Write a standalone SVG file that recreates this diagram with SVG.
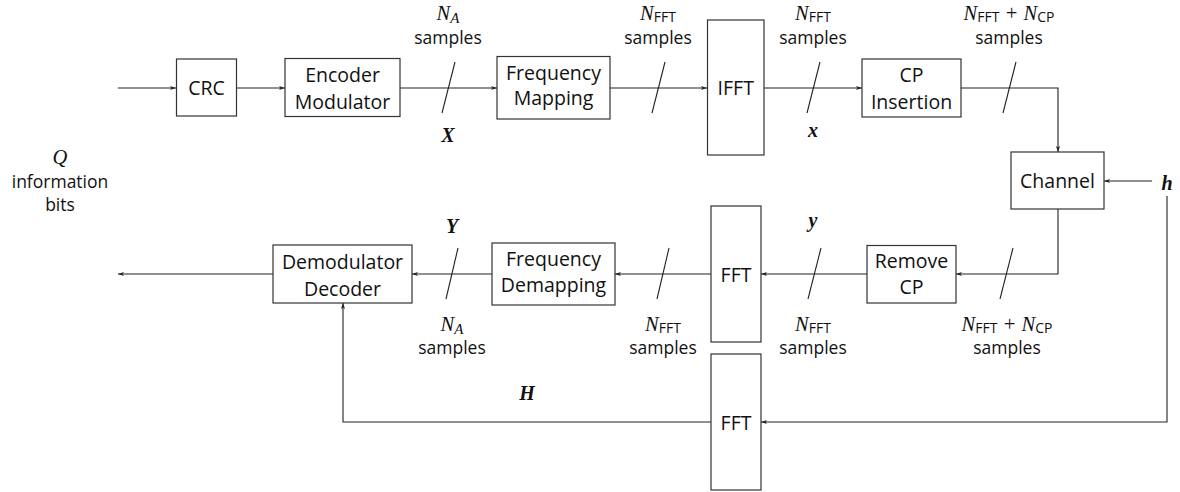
<svg xmlns="http://www.w3.org/2000/svg" width="1180" height="492" viewBox="0 0 1180 492">
<style>
.box{fill:#fff;stroke:#333;stroke-width:1.2}
.t{font-family:"Open Sans","Noto Sans",sans-serif;font-size:19.5px;fill:#111;text-anchor:middle}
.s{font-family:"Open Sans","Noto Sans",sans-serif;font-size:17.5px;fill:#111;text-anchor:middle}
.m{font-family:"Liberation Serif",serif;font-style:italic;font-size:20.5px;fill:#111;text-anchor:middle}
.b{font-family:"Liberation Serif",serif;font-style:italic;font-weight:bold;font-size:20px;fill:#111;text-anchor:middle}
.sub{font-family:"Open Sans","Noto Sans",sans-serif;font-style:normal;font-weight:normal;font-size:14px}
.subi{font-family:"Liberation Serif",serif;font-style:italic;font-size:15px}
.ln{fill:none;stroke:#222;stroke-width:1.1}
.sl{fill:none;stroke:#222;stroke-width:1.1}
</style>
<defs>
<marker id="ah" viewBox="0 0 10 10" refX="10" refY="5" markerWidth="8" markerHeight="6" markerUnits="userSpaceOnUse" orient="auto">
<path d="M0,1.5 L10,5 L0,8.5 L2.5,5 Z" fill="#222"/>
</marker>
</defs>
<g id="connectors">
<path class="ln" d="M118,88 H176" marker-end="url(#ah)"/>
<path class="ln" d="M236.5,88 H285" marker-end="url(#ah)"/>
<path class="ln" d="M400,88 H497" marker-end="url(#ah)"/>
<path class="ln" d="M610,88 H707" marker-end="url(#ah)"/>
<path class="ln" d="M764,88 H862" marker-end="url(#ah)"/>
<path class="ln" d="M961,88 H1058 V152" marker-end="url(#ah)"/>
<path class="ln" d="M1152,181 H1104" marker-end="url(#ah)"/>
<path class="ln" d="M1058,209 V274 H956" marker-end="url(#ah)"/>
<path class="ln" d="M867,274 H761" marker-end="url(#ah)"/>
<path class="ln" d="M711,274 H615" marker-end="url(#ah)"/>
<path class="ln" d="M492,274 H412" marker-end="url(#ah)"/>
<path class="ln" d="M273,274 H118" marker-end="url(#ah)"/>
<path class="ln" d="M1167,196 V422 H761" marker-end="url(#ah)"/>
<path class="ln" d="M711,422 H343 V303" marker-end="url(#ah)"/>
<path class="sl" d="M442,113 L455,62"/>
<path class="sl" d="M652,113 L665,62"/>
<path class="sl" d="M807,113 L820,62"/>
<path class="sl" d="M1003,113 L1016,62"/>
<path class="sl" d="M1000,299 L1013,248"/>
<path class="sl" d="M808,299 L821,248"/>
<path class="sl" d="M657,299 L669,248"/>
<path class="sl" d="M446,299 L458,248"/>
</g>
<g id="crc"><rect class="box" x="176.5" y="59" width="60" height="57"/><text class="t" x="206.5" y="95">CRC</text></g>
<g id="encoder"><rect class="box" x="285" y="58.5" width="115" height="58"/><text class="t" x="342.5" y="82">Encoder</text><text class="t" x="342.5" y="109">Modulator</text></g>
<g id="freqmap"><rect class="box" x="497" y="56.5" width="113" height="62.5"/><text class="t" x="553.5" y="80">Frequency</text><text class="t" x="553.5" y="105">Mapping</text></g>
<g id="ifft"><rect class="box" x="707.5" y="20" width="56.5" height="135"/><text class="t" x="735.75" y="95">IFFT</text></g>
<g id="cpins"><rect class="box" x="862" y="59" width="99" height="58"/><text class="t" x="911.5" y="82">CP</text><text class="t" x="911.5" y="109">Insertion</text></g>
<g id="channel"><rect class="box" x="1011" y="152" width="93" height="57"/><text class="t" x="1057.5" y="188">Channel</text></g>
<g id="removecp"><rect class="box" x="867" y="245.5" width="89" height="57.5"/><text class="t" x="911.5" y="268">Remove</text><text class="t" x="911.5" y="294">CP</text></g>
<g id="fft1"><rect class="box" x="711" y="206" width="50" height="136"/><text class="t" x="736" y="282">FFT</text></g>
<g id="fft2"><rect class="box" x="711" y="354" width="50" height="136"/><text class="t" x="736" y="430">FFT</text></g>
<g id="freqdemap"><rect class="box" x="492" y="243" width="123" height="62"/><text class="t" x="553.5" y="266">Frequency</text><text class="t" x="553.5" y="292">Demapping</text></g>
<g id="demod"><rect class="box" x="273" y="245" width="139" height="58"/><text class="t" x="342.5" y="269">Demodulator</text><text class="t" x="342.5" y="296">Decoder</text></g>
<g id="labels">
<text class="m" x="60" y="164">Q</text>
<text class="s" x="60" y="188">information</text>
<text class="s" x="60" y="211">bits</text>
<text class="m" x="448" y="20">N<tspan class="subi" dy="3">A</tspan></text>
<text class="s" x="448" y="44">samples</text>
<text class="b" x="448" y="142">X</text>
<text class="m" x="658" y="20">N<tspan class="sub" dy="2">FFT</tspan></text>
<text class="s" x="658" y="44">samples</text>
<text class="m" x="813" y="20">N<tspan class="sub" dy="2">FFT</tspan></text>
<text class="s" x="813" y="44">samples</text>
<text class="b" x="813" y="137">x</text>
<text class="m" x="1009" y="20">N<tspan class="sub" dy="2">FFT</tspan><tspan dy="-2"> + N</tspan><tspan class="sub" dy="2">CP</tspan></text>
<text class="s" x="1009" y="44">samples</text>
<text class="b" x="1167" y="190">h</text>
<text class="b" x="813" y="227">y</text>
<text class="b" x="452" y="233">Y</text>
<text class="m" x="1007" y="331">N<tspan class="sub" dy="2">FFT</tspan><tspan dy="-2"> + N</tspan><tspan class="sub" dy="2">CP</tspan></text>
<text class="s" x="1007" y="354">samples</text>
<text class="m" x="813" y="331">N<tspan class="sub" dy="2">FFT</tspan></text>
<text class="s" x="813" y="354">samples</text>
<text class="m" x="663" y="331">N<tspan class="sub" dy="2">FFT</tspan></text>
<text class="s" x="663" y="354">samples</text>
<text class="m" x="452" y="331">N<tspan class="subi" dy="3">A</tspan></text>
<text class="s" x="452" y="354">samples</text>
<text class="b" x="527" y="400">H</text>
</g>
</svg>
